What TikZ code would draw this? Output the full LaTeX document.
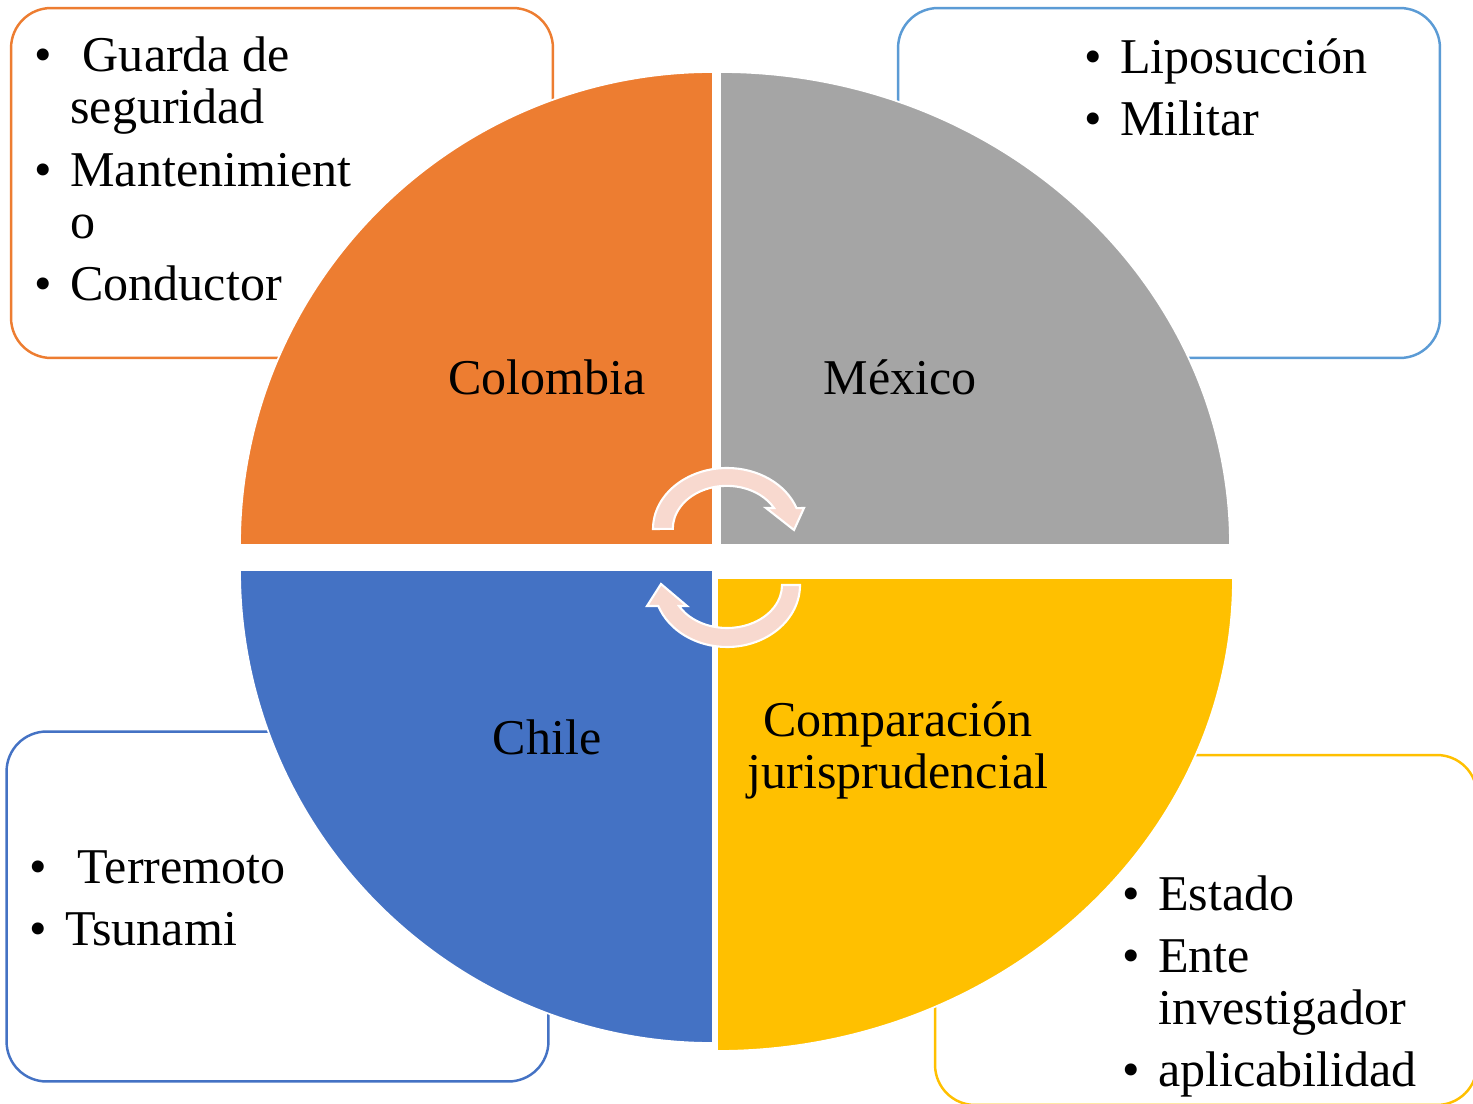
\documentclass[tikz,border=0pt]{standalone}
\usepackage{fontspec}
\setmainfont{Liberation Serif}
\definecolor{Orange}{HTML}{ED7D31}
\definecolor{Gray}{HTML}{A5A5A5}
\definecolor{Blue}{HTML}{4472C4}
\definecolor{Gold}{HTML}{FFC000}
\definecolor{SkyBlue}{HTML}{5B9BD5}
\definecolor{Peach}{HTML}{F8D9CF}
\newcommand{\bul}{\makebox[0.72cm][l]{\textbullet}}

\begin{document}
\begin{tikzpicture}[x=0.02cm,y=0.02cm,
  listbox/.style={draw=#1,line width=1.4pt,rounded corners=0.8cm,fill=white,
    minimum width=10.84cm,minimum height=7cm,inner sep=0},
  quarter/.style={fill=#1,draw=white,line width=1pt},
  cyclearrow/.style={fill=Peach,draw=white,line width=1.2pt},
  txt/.style={inner sep=0,font=\fontsize{28.5}{29.6}\selectfont}]
  \useasboundingbox (0,0) rectangle (1473,1103);
  \clip (0,0) rectangle (1473,1103);
  \fill[white] (0,0) rectangle (1473,1103);
  % boxes behind the circle
  \node[listbox=Orange] (colbox) at (282,920) {};
  \node[listbox=SkyBlue] (mexbox) at (1169,920) {};
  \node[listbox=Blue] (chibox) at (277.5,196.5) {};
  \node[listbox=Gold] (combox) at (1206,173) {};
  % quarters
  \draw[quarter=Orange] (713,558) -- (240,558) arc[start angle=180,end angle=90,radius=473] -- cycle;
  \draw[quarter=Gray] (720,558) -- (720,1031) arc[start angle=90,end angle=0,x radius=510,y radius=473] -- cycle;
  \draw[quarter=Blue] (713,533) -- (240,533) arc[start angle=180,end angle=270,radius=473] -- cycle;
  \draw[quarter=Gold] (717,525) -- (1233,525) arc[start angle=0,end angle=-90,x radius=516,y radius=473] -- cycle;
  % cycle arrows
  \draw[cyclearrow] (653,574) arc[start angle=180,end angle=20,x radius=74,y radius=61]
    -- (804,595) -- (794,573) -- (766,595) -- (774,595)
    arc[start angle=29,end angle=180,x radius=54,y radius=43] -- cycle;
  \draw[cyclearrow] (800,518) arc[start angle=0,end angle=-160.2,x radius=73,y radius=62]
    -- (647,497) -- (661,519) -- (687,497) -- (679,497)
    arc[start angle=-150.8,end angle=0,x radius=55,y radius=43] -- cycle;
  % labels
  \node[txt,anchor=base] (colombia) at (547,708) {Colombia};
  \node[txt,anchor=base] (mexico) at (900,708) {México};
  \node[txt,anchor=base] (chile) at (547,349) {Chile};
  \node[txt,anchor=base] (comparacion) at (898,367)
    {\begin{tabular}[t]{@{}c@{}}Comparación\\jurisprudencial\end{tabular}};
  % lists
  \node[txt,anchor=base west] (collist) at (34,1031)
    {\begin{tabular}[t]{@{}l@{}l@{}}\bul&\ Guarda de\\&seguridad\\[0.2cm]
      \bul&Mantenimient\\&o\\[0.2cm]\bul&Conductor\end{tabular}};
  \node[txt,anchor=base west] (mexlist) at (1084,1029)
    {\begin{tabular}[t]{@{}l@{}l@{}}\bul&Liposucción\\[0.2cm]\bul&Militar\end{tabular}};
  \node[txt,anchor=base west] (chilist) at (29,220)
    {\begin{tabular}[t]{@{}l@{}l@{}}\bul&\ Terremoto\\[0.2cm]\bul&Tsunami\end{tabular}};
  \node[txt,anchor=base west] (comlist) at (1122,193)
    {\begin{tabular}[t]{@{}l@{}l@{}}\bul&Estado\\[0.2cm]\bul&Ente\\&investigador\\[0.2cm]
      \bul&aplicabilidad\end{tabular}};
\end{tikzpicture}
\end{document}
